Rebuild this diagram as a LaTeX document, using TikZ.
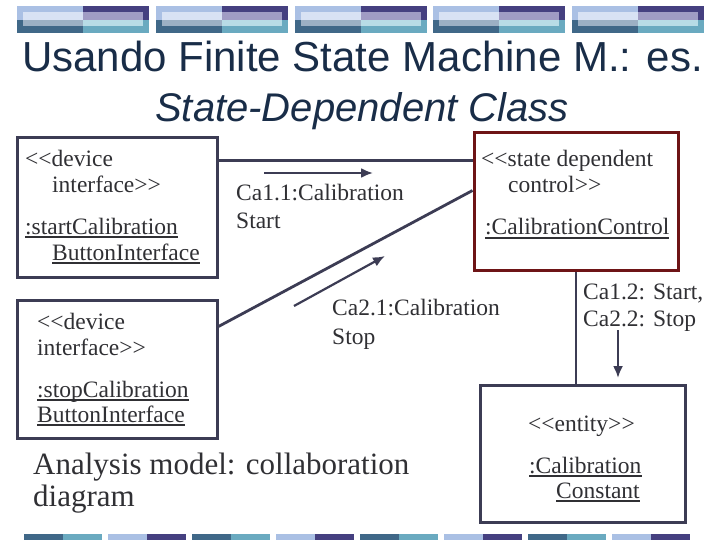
\documentclass[tikz,border=0pt]{standalone}
\usepackage{fontspec}
\setmainfont{Liberation Serif}
\newfontfamily\titlefont{Liberation Sans}
\usetikzlibrary{arrows.meta}
\definecolor{tUL}{RGB}{170,192,228}
\definecolor{tUR}{RGB}{69,64,128}
\definecolor{tLL}{RGB}{64,104,136}
\definecolor{tLR}{RGB}{106,170,192}
\definecolor{iUL}{RGB}{216,226,244}
\definecolor{iUR}{RGB}{160,156,196}
\definecolor{iLL}{RGB}{156,176,196}
\definecolor{iLR}{RGB}{184,220,230}
\definecolor{titlecol}{RGB}{25,45,72}
\definecolor{textgray}{RGB}{48,48,52}
\definecolor{linecol}{RGB}{60,60,84}
\definecolor{maroon}{RGB}{110,20,22}
\newcommand{\lguil}{<{}<}
\newcommand{\rguil}{>{}>}
\tikzset{
  box/.style={draw=linecol, line width=3pt, fill=white, rectangle, inner sep=0pt},
  ctrlbox/.style={box, draw=maroon},
  lbl/.style={anchor=base west, inner sep=0pt, text=textgray, font=\fontsize{23.5}{26}\selectfont},
  conn/.style={draw=linecol, line width=2.8pt},
  msg/.style={draw=linecol, line width=2.2pt, -{Latex[length=12pt,width=10pt]}},
  uline/.style={draw=textgray, line width=1.3pt}
}
\begin{document}
\begin{tikzpicture}[x=1pt,y=-1pt]
\useasboundingbox[fill=white] (0,0) rectangle (720,540);
% top decorative tiles
\foreach \i in {0,...,4}{
  \pgfmathsetmacro\xa{17+138.8*\i}
  \fill[tUL] (\xa,6) rectangle ({\xa+66},20);
  \fill[tUR] ({\xa+66},6) rectangle ({\xa+132},20);
  \fill[tLL] (\xa,20) rectangle ({\xa+66},33);
  \fill[tLR] ({\xa+66},20) rectangle ({\xa+132},33);
  \fill[iUL] ({\xa+6},12) rectangle ({\xa+66},20);
  \fill[iUR] ({\xa+66},12) rectangle ({\xa+126},20);
  \fill[iLL] ({\xa+6},20) rectangle ({\xa+66},26);
  \fill[iLR] ({\xa+66},20) rectangle ({\xa+126},26);
}
% bottom decorative tiles
\foreach \i in {0,2,4,6}{
  \pgfmathsetmacro\xa{24+84*\i}
  \fill[tLL] (\xa,534) rectangle ({\xa+39},540);
  \fill[tLR] ({\xa+39},534) rectangle ({\xa+78},540);
}
\foreach \i in {1,3,5,7}{
  \pgfmathsetmacro\xa{24+84*\i}
  \fill[tUL] (\xa,534) rectangle ({\xa+39},540);
  \fill[tUR] ({\xa+39},534) rectangle ({\xa+78},540);
}
% titles
\node[anchor=base west, inner sep=0pt, text=titlecol, font=\titlefont\fontsize{42}{46}\selectfont] (title) at (22,72) {Usando Finite State Machine M.: es.};
\node[anchor=base west, inner sep=0pt, text=titlecol, font=\titlefont\itshape\fontsize{40}{44}\selectfont] (subtitle) at (155,122) {State-Dependent Class};
% boxes
\node[box, minimum width=200pt, minimum height=139pt] (b1) at (117,207.5) {};
\node[box, minimum width=200pt, minimum height=138pt] (b2) at (117,369) {};
\node[ctrlbox, minimum width=204pt, minimum height=137pt] (b3) at (576,201.5) {};
\node[box, minimum width=205pt, minimum height=137pt] (b4) at (582.5,453.5) {};
% connectors
\coordinate (p1) at ([yshift=-24pt]b1.north east);
\draw[conn] (p1) -- (p1 -| b3.west);
\draw[conn] ([yshift=-28pt]b2.north east) -- ([yshift=-59pt]b3.north west);
\draw[conn] (b3.south) -- (b3.south |- b4.north);
% message arrows
\coordinate (m1s) at (264,173); \coordinate (m1e) at (373,173);
\coordinate (m2s) at (294,306); \coordinate (m2e) at (385,256);
\coordinate (m3s) at (618,330); \coordinate (m3e) at (618,378);
\draw[msg] (m1s) -- (m1e);
\draw[msg] (m2s) -- (m2e);
\draw[msg] (m3s) -- (m3e);
% box texts
\node[lbl] (t1a) at (25,167) {\lguil device};
\node[lbl] (t1b) at (52,193) {interface\rguil};
\node[lbl] (t1c) at (25,234) {:startCalibration};
\node[lbl] (t1d) at (52,260) {ButtonInterface};
\node[lbl] (t2a) at (37,329) {\lguil device};
\node[lbl] (t2b) at (37,355) {interface\rguil};
\node[lbl] (t2c) at (37,397) {:stopCalibration};
\node[lbl] (t2d) at (37,422) {ButtonInterface};
\node[lbl] (t3a) at (481,167) {\lguil state dependent};
\node[lbl] (t3b) at (508,193) {control\rguil};
\node[lbl] (t3c) at (485,235) {:CalibrationControl};
\node[lbl] (t4a) at (528,431) {\lguil entity\rguil};
\node[lbl] (t4b) at (529,473) {:Calibration};
\node[lbl] (t4c) at (556,498) {Constant};
\foreach \n in {t1c,t1d,t2c,t2d,t3c,t4b,t4c}{
  \draw[uline] ([yshift=-3pt]\n.base west) -- ([yshift=-3pt]\n.base east);
}
% message labels
\node[lbl] (l1a) at (236,201) {Ca1.1:Calibration};
\node[lbl] (l1b) at (236,229) {Start};
\node[lbl] (l2a) at (332,315) {Ca2.1:Calibration};
\node[lbl] (l2b) at (332,344) {Stop};
\node[lbl] (l3a) at (583,299) {Ca1.2: Start,};
\node[lbl] (l3b) at (583,326) {Ca2.2: Stop};
% caption
\node[lbl, font=\fontsize{31}{34}\selectfont] (c1) at (33,474) {Analysis model: collaboration};
\node[lbl, font=\fontsize{31}{34}\selectfont] (c2) at (33,506) {diagram};
\end{tikzpicture}
\end{document}
